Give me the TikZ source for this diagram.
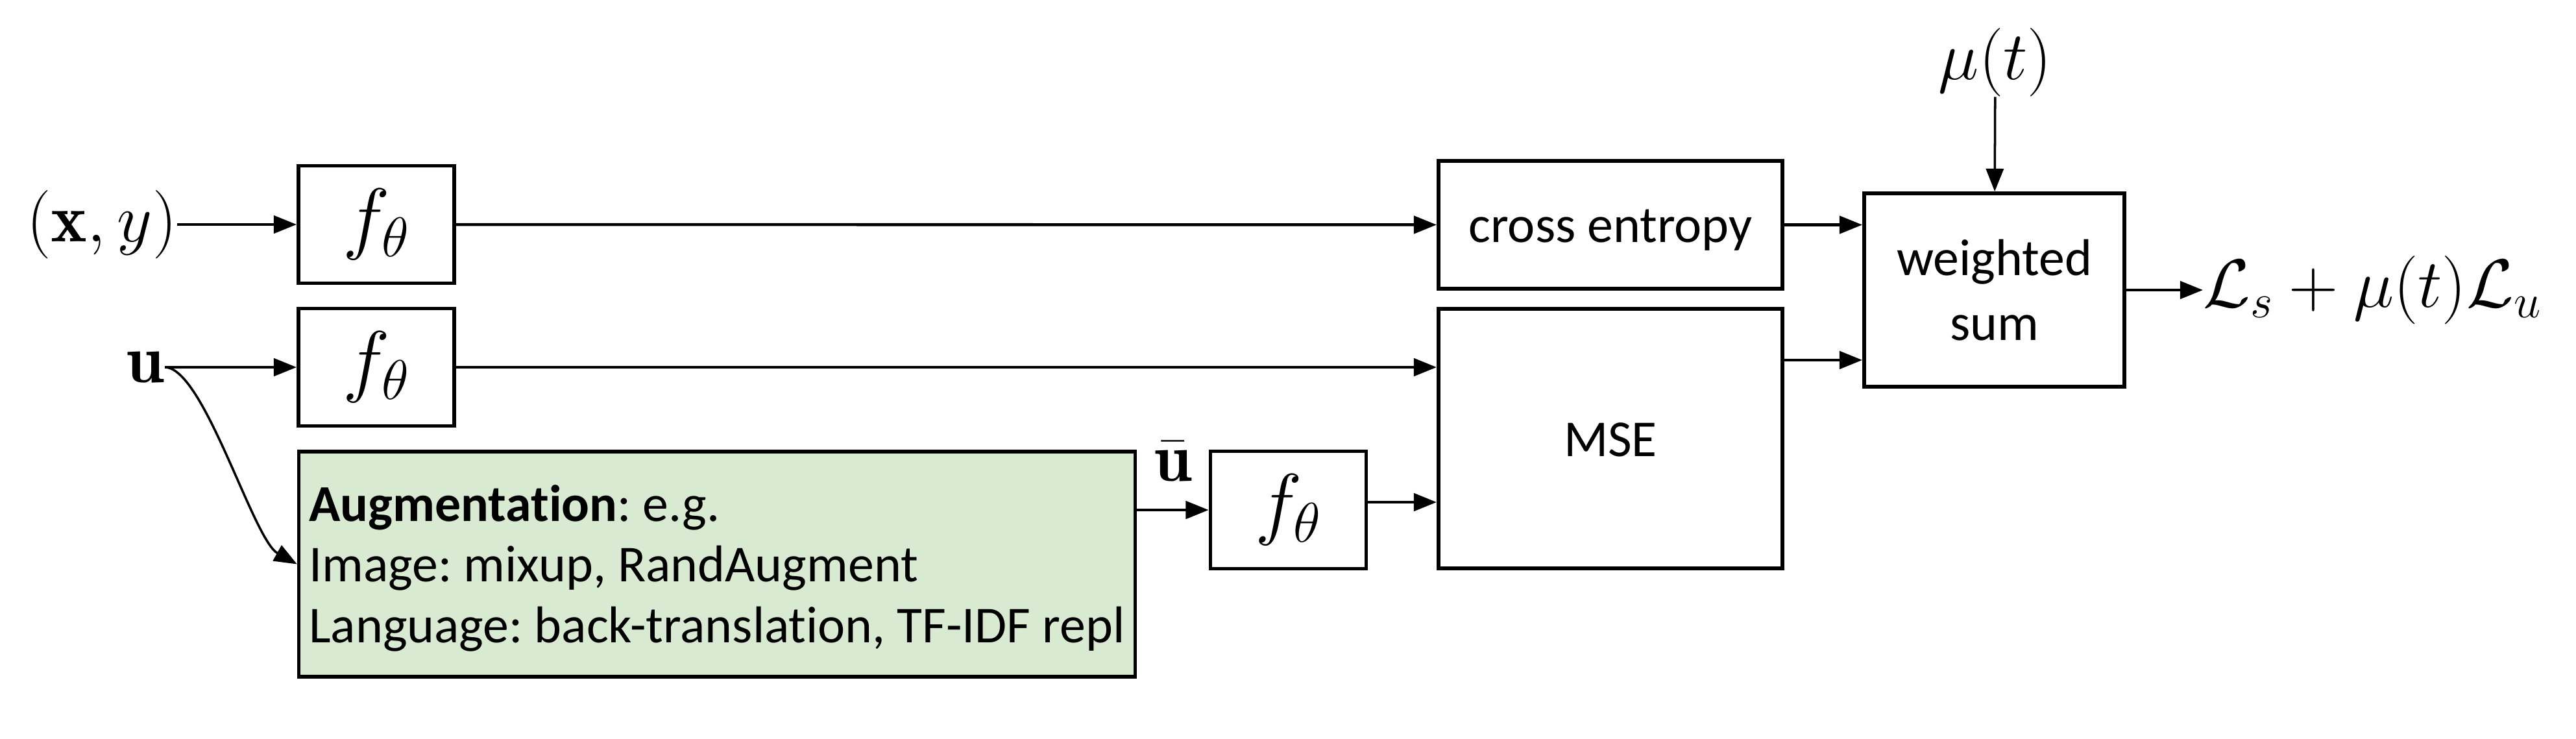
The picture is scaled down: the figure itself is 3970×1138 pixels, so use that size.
\RequirePackage{fix-cm}
\documentclass[tikz,border=0pt]{standalone}
\usepackage{fontspec}
\newfontfamily\carlito[Ligatures=NoCommon]{Carlito}
\usetikzlibrary{arrows.meta}
\definecolor{augfill}{HTML}{D9EAD3}
\frenchspacing
\begin{document}
\begin{tikzpicture}[x=0.01cm,y=-0.01cm,
  box/.style={draw, line width=1.6pt, inner sep=0pt},
  lbl/.style={font=\carlito\fontsize{22.7}{28.5}\selectfont},
  ctext/.style={lbl, text height=21.6pt, text depth=6.1pt},
  mth/.style={inner sep=0pt, font=\fontsize{30}{36}\selectfont},
  fth/.style={box, minimum width=2.40cm, minimum height=1.81cm, font=\fontsize{35}{42}\selectfont},
  arr/.style={line width=1.3pt, -{Triangle[length=10pt,width=7.7pt]}},
  thinarr/.style={line width=1pt, -{Triangle[length=10pt,width=7.7pt]}},
]
\useasboundingbox (0,0) rectangle (3970,1138);
\node[mth] (xy) at (157,346) {$(\mathbf{x},y)$};
\node[fth] (f1) at (580,346) {$f_\theta$};
\node[fth] (f2) at (580,566) {$f_\theta$};
\node[mth] (u) at (224,566) {$\mathbf{u}$};
\node[box, fill=augfill, minimum width=12.88cm, minimum height=3.47cm, align=left,
      font=\carlito\fontsize{22.7}{26.6}\selectfont] (aug) at (1105,869.5)
  {\rule{0pt}{21.6pt}\textbf{Augmentation}: e.g.\\Image: mixup, RandAugment\\Language: back-translation, TF-IDF repl\rule[-6.1pt]{0pt}{6.1pt}};
\node[mth] (ubar) at (1808,711) {$\bar{\mathbf{u}}$};
\node[fth] (f3) at (1985.5,786) {$f_\theta$};
\node[box, ctext, minimum width=5.30cm, minimum height=1.97cm] (ce) at (2482,346.5) {cross entropy};
\node[box, ctext, minimum width=5.30cm, minimum height=4.00cm] (mse) at (2482,676) {MSE};
\node[box, lbl, align=center, minimum width=4.01cm, minimum height=2.98cm] (ws) at (3073.5,447) {weighted\\sum};
\node[mth] (mu) at (3075,96) {$\mu(t)$};
\node[mth, anchor=west] (loss) at (3395,447) {$\mathcal{L}_s+\mu(t)\mathcal{L}_u$};

\draw[arr] (xy) -- (f1);
\draw[arr] (f1) -- (ce);
\draw[arr] (u) -- (f2);
\draw[arr] (f2.east) -- (f2.east -| mse.west);
\draw[thinarr] (u.east) .. controls +(60,0) and +(-68,-38) .. (aug.west);
\draw[arr] (aug.east |- f3.west) -- (f3.west);
\draw[arr] ([yshift=0.12cm]f3.east) -- ([yshift=0.12cm]f3.east -| mse.west);
\draw[arr] (ce.east) -- (ce.east -| ws.west);
\draw[arr] ([yshift=1.21cm]mse.east) -- ([yshift=1.21cm]mse.east -| ws.west);
\draw[arr] (ws) -- (loss);
\draw[thinarr] (mu) -- (ws);
\end{tikzpicture}
\end{document}
